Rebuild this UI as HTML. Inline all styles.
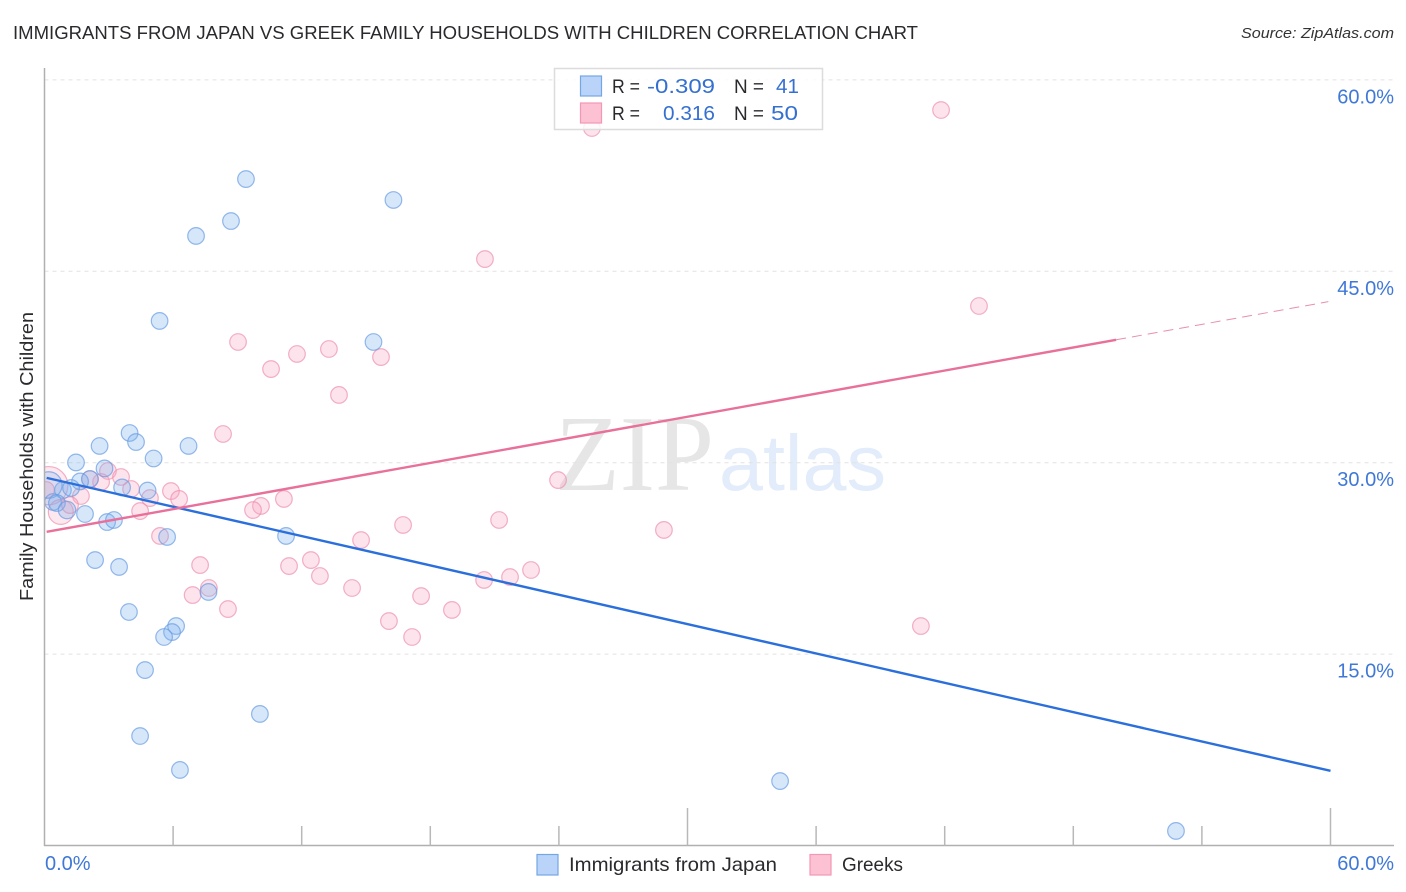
<!DOCTYPE html>
<html lang="en">
<head>
<meta charset="utf-8">
<title>Immigrants from Japan vs Greek Family Households with Children Correlation Chart</title>
<style>
html,body{margin:0;padding:0;background:#fff;width:1406px;height:892px;overflow:hidden}
svg{display:block}
text{font-family:"Liberation Sans",sans-serif}
</style>
</head>
<body>
<svg id="chart" width="1406" height="892" viewBox="0 0 1406 892" xmlns="http://www.w3.org/2000/svg">
  <defs>
    <clipPath id="plot-clip"><rect x="45" y="60" width="1349" height="786"/></clipPath>
  </defs>
  <text x="13" y="39" font-size="18.5" fill="#2a2a2e" textLength="905" lengthAdjust="spacingAndGlyphs">IMMIGRANTS FROM JAPAN VS GREEK FAMILY HOUSEHOLDS WITH CHILDREN CORRELATION CHART</text>
  <text x="1241" y="38" font-size="15" font-style="italic" fill="#333" textLength="153" lengthAdjust="spacingAndGlyphs">Source: ZipAtlas.com</text>

  <g id="watermark">
    <text x="555" y="490" font-size="108" fill="#e6e6e6" style="font-family:'Liberation Serif',serif" textLength="159" lengthAdjust="spacingAndGlyphs">ZIP</text>
    <text x="719" y="490" font-size="79" fill="#e2ecfa" textLength="167" lengthAdjust="spacingAndGlyphs">atlas</text>
  </g>

  <g id="grid"></g>
  <g clip-path="url(#plot-clip)">
    <g id="pink-points"></g>
    <g id="blue-points"></g>
  </g>
  <g id="trends"></g>
  <g id="axes"></g>
  <g id="tick-labels"></g>

  <text transform="translate(33,601) rotate(-90)" font-size="18" fill="#2a2a2e" textLength="289" lengthAdjust="spacingAndGlyphs">Family Households with Children</text>

  <g>
    <rect x="554.5" y="68.5" width="268" height="61" fill="#fff" fill-opacity="0.82" stroke="#dcdcdc" stroke-width="1.5"/>
    <rect x="580.5" y="76" width="21" height="20" fill="#b9d4f8" stroke="#74a6e6" stroke-width="1.2"/>
    <rect x="580.5" y="103" width="21" height="20" fill="#fcc2d4" stroke="#f397b5" stroke-width="1.2"/>
    <text x="612" y="93" font-size="19" fill="#2a2a2e" textLength="28" lengthAdjust="spacingAndGlyphs">R =</text>
    <text x="647" y="93" font-size="20" fill="#3570d0" textLength="68" lengthAdjust="spacingAndGlyphs">-0.309</text>
    <text x="734" y="93" font-size="19" fill="#2a2a2e" textLength="30" lengthAdjust="spacingAndGlyphs">N =</text>
    <text x="776" y="93" font-size="20" fill="#3570d0" textLength="23" lengthAdjust="spacingAndGlyphs">41</text>
    <text x="612" y="120" font-size="19" fill="#2a2a2e" textLength="28" lengthAdjust="spacingAndGlyphs">R =</text>
    <text x="663" y="120" font-size="20" fill="#3570d0" textLength="52" lengthAdjust="spacingAndGlyphs">0.316</text>
    <text x="734" y="120" font-size="19" fill="#2a2a2e" textLength="30" lengthAdjust="spacingAndGlyphs">N =</text>
    <text x="771" y="120" font-size="20" fill="#3570d0" textLength="27" lengthAdjust="spacingAndGlyphs">50</text>
  </g>

  <g>
    <rect x="537" y="854.5" width="21" height="20.5" fill="#b9d4f8" stroke="#74a6e6" stroke-width="1.2"/>
    <text x="569" y="871" font-size="19.5" fill="#2a2a2e" textLength="208" lengthAdjust="spacingAndGlyphs">Immigrants from Japan</text>
    <rect x="810" y="854.5" width="21" height="20.5" fill="#fcc2d4" stroke="#f397b5" stroke-width="1.2"/>
    <text x="842" y="871" font-size="19.5" fill="#2a2a2e" textLength="61" lengthAdjust="spacingAndGlyphs">Greeks</text>
  </g>
</svg>

<script>
// Axis ticks (percent)
const xTicks = [0, 6, 12, 18, 24, 30, 36, 42, 48, 54, 60];
const xMajorTicks = [30, 60];
const xTickLabels = ["0.0%", "60.0%"];
const xTickLabelValues = [0, 60];
const yTicks = [15, 30, 45, 60];
const yTickLabels = ["15.0%", "30.0%", "45.0%", "60.0%"];

// Immigrants from Japan (percent)
const japanX = [16.28, 9.40, 8.70, 7.07, 5.37, 15.35, 3.97, 4.27, 2.57, 6.72, 5.09, 1.47, 2.80, 2.12, 3.62, 4.81, 1.66, 0.86, 1.24, 0.20, 0.40, 0.58, 1.05, 1.89, 2.92, 3.24, 5.72, 11.27, 2.36, 3.48, 3.94, 7.65, 6.14, 5.95, 5.58, 4.69, 10.05, 4.46, 6.32, 34.32, 52.79];
const japanY = [50.59, 52.23, 48.94, 47.77, 41.11, 39.46, 32.33, 31.62, 31.31, 31.31, 30.33, 30.02, 29.55, 28.72, 28.06, 27.82, 28.53, 27.86, 28.02, 28.25, 26.92, 26.84, 26.29, 25.98, 25.35, 25.51, 24.18, 24.26, 22.37, 21.83, 18.30, 19.87, 17.20, 16.73, 16.34, 13.75, 10.31, 8.58, 5.92, 5.05, 1.14];
const japanWeight = [1, 1, 1, 1, 1, 1, 1, 1, 1, 1, 1, 1, 1, 1, 1, 1, 1, 1, 1, 1.6, 1, 1, 1.05, 1, 1, 1, 1, 1, 1, 1, 1, 1, 1, 1, 1, 1, 1, 1, 1, 1, 1];

// Greeks (percent)
const greeksX = [41.83, 25.54, 20.55, 43.60, 9.03, 13.27, 11.78, 15.70, 10.57, 13.74, 8.33, 23.96, 2.96, 3.57, 2.64, 4.04, 2.12, 1.70, 4.92, 5.90, 6.28, 11.17, 10.10, 9.73, 4.46, 0.20, 0.76, 1.19, 16.73, 21.21, 28.90, 5.39, 14.77, 12.43, 7.26, 11.41, 22.70, 21.72, 12.85, 20.51, 14.35, 7.67, 6.91, 17.57, 8.56, 19.01, 16.07, 40.89, 17.15, 0.07];
const greeksY = [57.64, 56.23, 45.96, 42.28, 39.46, 38.91, 38.52, 38.28, 37.34, 35.31, 32.25, 28.64, 29.35, 28.88, 28.49, 27.94, 28.72, 27.39, 27.23, 27.78, 27.16, 27.16, 26.61, 26.29, 26.21, 28.20, 26.14, 26.68, 25.12, 25.51, 24.73, 24.26, 23.94, 22.37, 21.98, 21.90, 21.59, 21.04, 21.12, 20.81, 20.18, 20.18, 19.63, 19.55, 18.53, 18.46, 17.59, 17.20, 16.34, 27.86];
const greeksWeight = [1, 1, 1, 1, 1, 1, 1, 1, 1, 1, 1, 1, 1, 1, 1, 1, 1, 1, 1, 1, 1, 1, 1, 1, 1, 2.3, 1.5, 1, 1, 1, 1, 1, 1, 1, 1, 1, 1, 1, 1, 1, 1, 1, 1, 1, 1, 1, 1, 1, 1, 1];

// Trend lines: value at x = 0 and value at x = 60; Greeks solid part ends at greeksSolidEnd
const japanTrend = [28.85, 5.85];
const greeksTrend = [24.55, 42.65];
const greeksSolidEnd = [50];

const SVGNS = "http://www.w3.org/2000/svg";
function xScale(v) { return 44.5 + v * (1286 / 60); }
function yScale(v) { return 845.5 - v * 12.76; }
function node(parent, tag, attrs) {
  const el = document.createElementNS(SVGNS, tag);
  for (const k in attrs) el.setAttribute(k, attrs[k]);
  parent.appendChild(el);
  return el;
}

const grid = document.getElementById("grid");
yTicks.forEach(function (t) {
  const line = node(grid, "line", { x1: 44.5, x2: 1394, y1: yScale(t), y2: yScale(t), stroke: "#e2e2e2", "stroke-width": 1, "stroke-dasharray": "4 4" });
  
  
});

function drawPoints(groupId, xs, ys, weights, fill, stroke, name) {
  const g = document.getElementById(groupId);
  xs.forEach(function (x, i) {
    const c = node(g, "circle", { cx: xScale(x), cy: yScale(ys[i]), r: 8.3 * weights[i], fill: fill, "fill-opacity": weights[i] > 1.2 ? 0.25 : 0.3, stroke: stroke, "stroke-opacity": 0.7, "stroke-width": 1.2 });
    
    
  });
}
drawPoints("pink-points", greeksX, greeksY, greeksWeight, "#f9a4bf", "#ee8fae", "greeks-point");
drawPoints("blue-points", japanX, japanY, japanWeight, "#79aef0", "#669be2", "japan-point");

const trends = document.getElementById("trends");
function trendAt(tr, x) { return tr[0] + (tr[1] - tr[0]) * x / 60; }

const blueLine = node(trends, "line", { x1: xScale(0.1), y1: yScale(trendAt(japanTrend, 0.1)), x2: xScale(60), y2: yScale(trendAt(japanTrend, 60)), stroke: "#2a6fdb", "stroke-width": 2.4 });



const pinkDash = node(trends, "line", { x1: xScale(greeksSolidEnd[0]), y1: yScale(trendAt(greeksTrend, greeksSolidEnd[0])), x2: xScale(59.9), y2: yScale(trendAt(greeksTrend, 59.9)), stroke: "#e88fae", "stroke-width": 1, "stroke-dasharray": "10 6" });



const pinkLine = node(trends, "line", { x1: xScale(0.1), y1: yScale(trendAt(greeksTrend, 0.1)), x2: xScale(greeksSolidEnd[0]), y2: yScale(trendAt(greeksTrend, greeksSolidEnd[0])), stroke: "#e8709a", "stroke-width": 2.4 });



const axes = document.getElementById("axes");
const yAxis = node(axes, "line", { x1: 44.5, x2: 44.5, y1: 68, y2: 846, stroke: "#b0b0b0", "stroke-width": 1.5 });


const xAxis = node(axes, "line", { x1: 44, x2: 1394, y1: 845.5, y2: 845.5, stroke: "#b0b0b0", "stroke-width": 1.5 });


xTicks.forEach(function (t) {
  if (t === 0) return;
  const top = xMajorTicks.indexOf(t) >= 0 ? 808 : 826;
  const tick = node(axes, "line", { x1: xScale(t), x2: xScale(t), y1: top, y2: 845.5, stroke: "#b8b8b8", "stroke-width": 1.5 });
  
  
});

const labels = document.getElementById("tick-labels");
yTicks.forEach(function (t, i) {
  const lab = node(labels, "text", { x: 1394, y: yScale(t) + 23.5, "text-anchor": "end", "font-size": 20, fill: "#3f78d6" });
  lab.textContent = yTickLabels[i];
  
  
});
xTickLabelValues.forEach(function (t, i) {
  const lab = node(labels, "text", { x: t === 0 ? 45 : 1394, y: 870, "text-anchor": t === 0 ? "start" : "end", "font-size": 20, fill: "#3f78d6" });
  lab.textContent = xTickLabels[i];
  
  
});
</script>
</body>
</html>
